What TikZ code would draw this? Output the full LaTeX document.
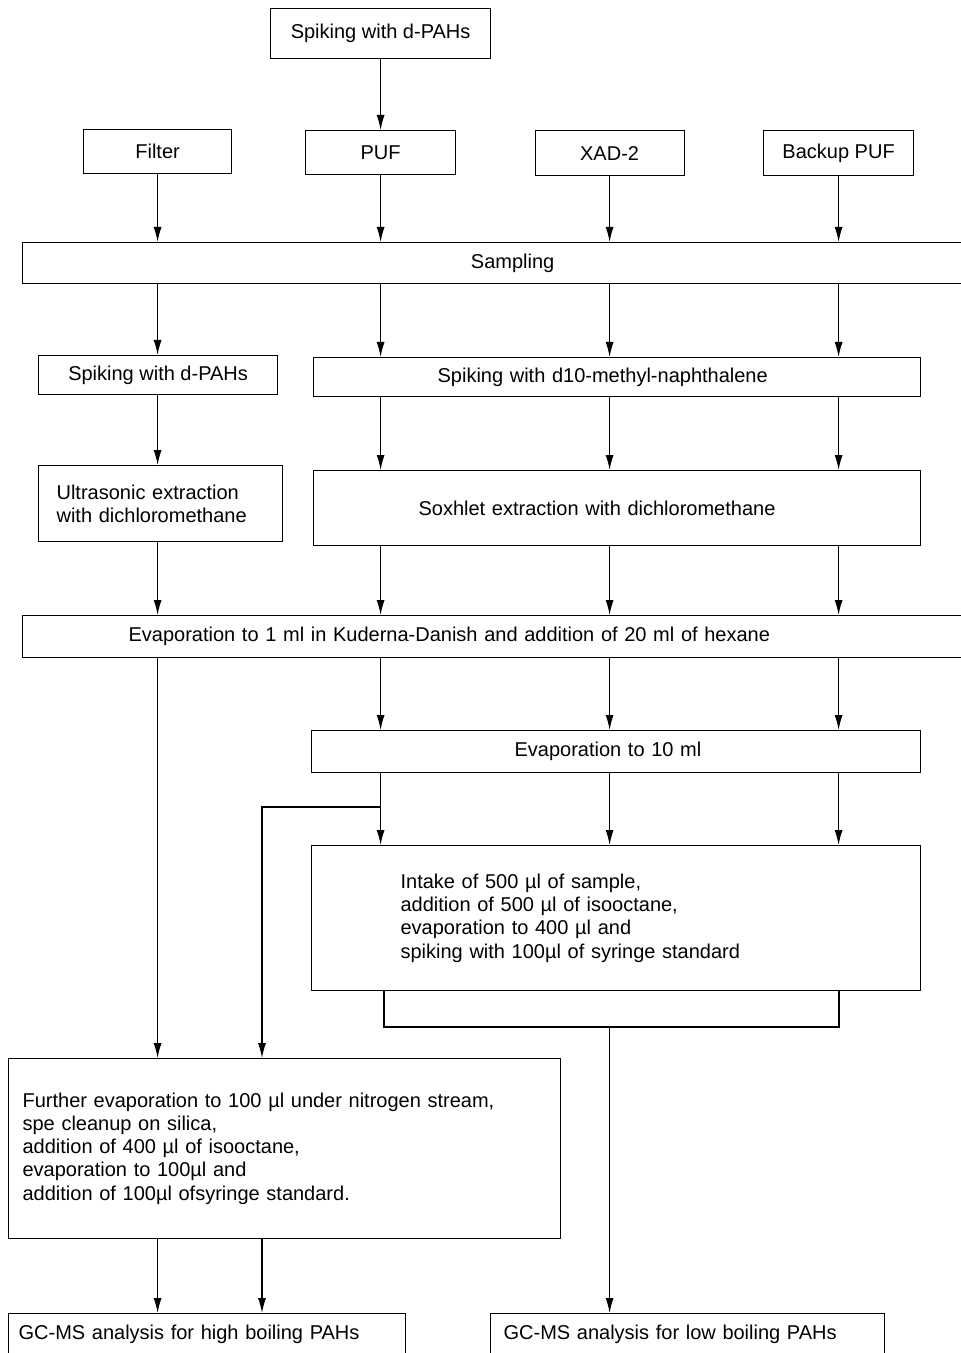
\documentclass[tikz,border=0pt]{standalone}
\usepackage{fontspec}
\setmainfont{Liberation Sans}
\usetikzlibrary{arrows.meta}

\begin{document}
\begin{tikzpicture}[x=0.5pt, y=-0.5pt, line width=0.6pt,
    >={Latex[length=7.5pt, width=4pt]},
    box/.style={draw, rectangle, inner sep=0pt, anchor=north west,
      font=\fontsize{10}{11.6}\selectfont},
    textbox/.style={box, align=left}]
          \useasboundingbox (0,0) rectangle (961,1353);
          \clip (0,0) rectangle (961,1353);

          \node[box, minimum width=110pt, minimum height=25pt] (spike) at (270,8) {Spiking with d-PAHs};
          \node[box, minimum width=74pt, minimum height=22pt] (filter) at (83,129) {Filter};
          \node[box, minimum width=75pt, minimum height=22pt] (puf) at (305,130) {PUF};
          \node[box, minimum width=74.5pt, minimum height=22.5pt] (xad) at (534.5,130) {XAD-2};
          \node[box, minimum width=75pt, minimum height=22.5pt] (bpuf) at (763,130) {Backup PUF};
          \node[box, minimum width=490pt, minimum height=20.5pt] (sampling) at (22,242) {Sampling};
          \node[box, minimum width=119.5pt, minimum height=19.5pt] (spkleft) at (38,355) {Spiking with d-PAHs};
          \node[textbox, inner xsep=62pt, text width=179.5pt, minimum height=19.5pt] (spkten) at (313,357) {Spiking with d10-methyl-naphthalene};
          \node[textbox, inner xsep=9pt, text width=104pt, minimum height=38pt] (ultra) at (38,465) {Ultrasonic extraction\\with dichloromethane};
          \node[textbox, inner xsep=52.5pt, text width=198.5pt, minimum height=37.5pt] (soxhlet) at (313,470) {Soxhlet extraction with dichloromethane};
          \node[textbox, inner xsep=53pt, text width=384pt, minimum height=21pt] (evone) at (22,615) {Evaporation to 1 ml in Kuderna-Danish and addition of 20 ml of hexane};
          \node[textbox, inner xsep=101.5pt, text width=101.5pt, minimum height=21pt] (evten) at (311,730) {Evaporation to 10 ml};
          \node[textbox, inner xsep=44.5pt, text width=215.5pt, minimum height=72.5pt] (intake) at (311,845) {Intake of 500 µl of sample,\\addition of 500 µl of isooctane,\\evaporation to 400 µl and\\spiking with 100µl of syringe standard};
          \node[textbox, inner xsep=7pt, text width=262pt, minimum height=90pt] (further) at (8,1058) {Further evaporation to 100 µl under nitrogen stream,\\spe cleanup on silica,\\addition of 400 µl of isooctane,\\evaporation to 100µl and\\addition of 100µl ofsyringe standard.};
          \node[textbox, inner xsep=5pt, text width=188.5pt, minimum height=21pt] (gchigh) at (8,1313) {GC-MS analysis for high boiling PAHs};
          \node[textbox, inner xsep=6.5pt, text width=184pt, minimum height=21pt] (gclow) at (490,1313) {GC-MS analysis for low boiling PAHs};

          \coordinate (split) at (380,807);
          \coordinate (branch) at (262,807);
          \coordinate (bl) at (384,1027);
          \coordinate (br) at (839,1027);

          \draw [->] (spike.south -| puf.north) -- (puf.north);

          \draw [->] (filter.south) -- (filter.south |- sampling.north);
          \draw [->] (puf.south) -- (puf.south |- sampling.north);
          \draw [->] (xad.south) -- (xad.south |- sampling.north);
          \draw [->] (bpuf.south) -- (bpuf.south |- sampling.north);

          \draw [->] (filter.south |- sampling.south) -- (spkleft.north -| filter.south);
          \draw [->] (puf.south |- sampling.south) -- (puf.south |- spkten.north);
          \draw [->] (xad.south |- sampling.south) -- (xad.south |- spkten.north);
          \draw [->] (bpuf.south |- sampling.south) -- (bpuf.south |- spkten.north);

          \draw [->] (filter.south |- spkleft.south) -- (filter.south |- ultra.north);
          \draw [->] (puf.south |- spkten.south) -- (puf.south |- soxhlet.north);
          \draw [->] (xad.south |- spkten.south) -- (xad.south |- soxhlet.north);
          \draw [->] (bpuf.south |- spkten.south) -- (bpuf.south |- soxhlet.north);

          \draw [->] (filter.south |- ultra.south) -- (filter.south |- evone.north);
          \draw [->] (puf.south |- soxhlet.south) -- (puf.south |- evone.north);
          \draw [->] (xad.south |- soxhlet.south) -- (xad.south |- evone.north);
          \draw [->] (bpuf.south |- soxhlet.south) -- (bpuf.south |- evone.north);

          \draw [->] (filter.south |- evone.south) -- (filter.south |- further.north);
          \draw [->] (puf.south |- evone.south) -- (puf.south |- evten.north);
          \draw [->] (xad.south |- evone.south) -- (xad.south |- evten.north);
          \draw [->] (bpuf.south |- evone.south) -- (bpuf.south |- evten.north);

          \draw [->] (puf.south |- evten.south) -- (puf.south |- intake.north);
          \draw [->] (xad.south |- evten.south) -- (xad.south |- intake.north);
          \draw [->] (bpuf.south |- evten.south) -- (bpuf.south |- intake.north);
          \draw [->] (split) -- (branch) -- (branch |- further.north);

          \draw [-] (bl |- intake.south) -- (bl) -- (br) -- (br |- intake.south);
          \draw [->] (xad.south |- bl) -- (xad.south |- gclow.north);

          \draw [->] (filter.south |- further.south) -- (filter.south |- gchigh.north);
          \draw [->] (branch |- further.south) -- (branch |- gchigh.north);
        \end{tikzpicture}
\end{document}
